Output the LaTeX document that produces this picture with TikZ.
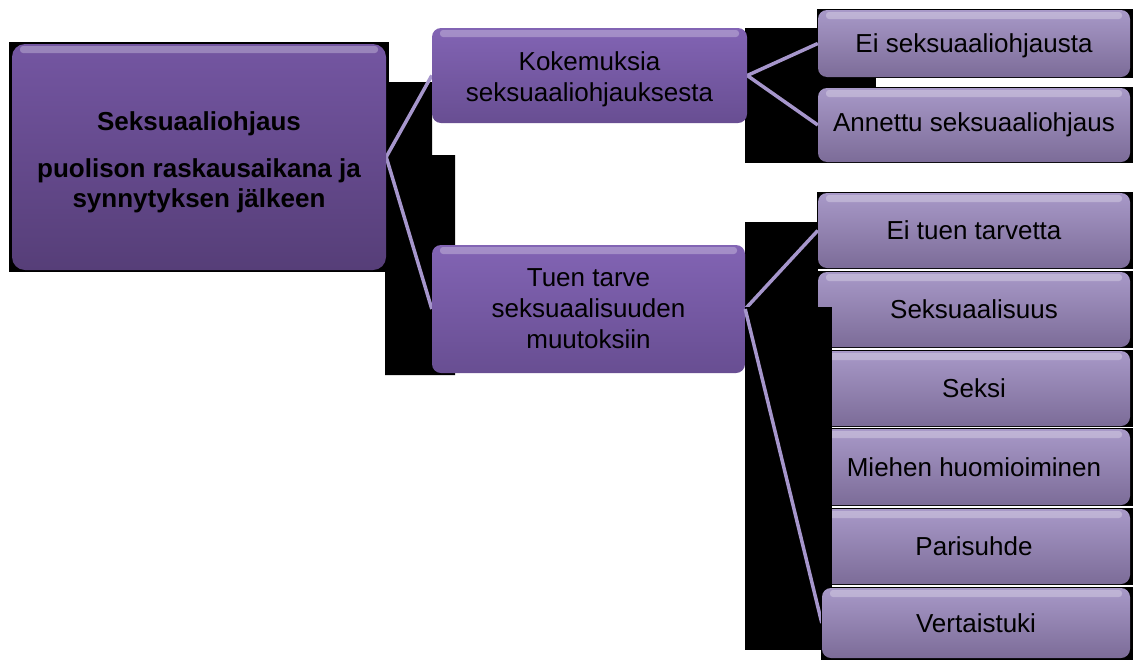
\documentclass[tikz,border=0pt]{standalone}
\usepackage{fontspec}
\setmainfont{Liberation Sans}
\pgfdeclarelayer{paper}
\pgfdeclarelayer{blk}
\pgfdeclarelayer{lns}
\pgfdeclarelayer{blktwo}
\pgfdeclarelayer{lnstwo}
\pgfdeclarelayer{toplayer}
\pgfsetlayers{paper,blk,lns,main,blktwo,lnstwo,toplayer}
\definecolor{mainT}{RGB}{116,86,162}
\definecolor{mainB}{RGB}{86,62,120}
\definecolor{midT}{RGB}{130,100,180}
\definecolor{midB}{RGB}{104,78,146}
\definecolor{leafT}{RGB}{168,153,200}
\definecolor{leafB}{RGB}{124,108,152}
\definecolor{lineC}{RGB}{166,150,204}
\tikzset{
  box/.style={rounded corners=9pt, inner sep=0pt, align=center, text=black,
    font=\fontsize{26}{31}\selectfont,
    path picture={\fill[white, opacity=0.28, rounded corners=3pt]
      ([xshift=8pt,yshift=-2pt]path picture bounding box.north west) rectangle
      ([xshift=-8pt,yshift=-9pt]path picture bounding box.north east);}},
  mainbox/.style={box, rounded corners=13pt, top color=mainT, bottom color=mainB,
    font=\bfseries\fontsize{26}{30}\selectfont},
  midbox/.style={box, top color=midT, bottom color=midB},
  leafbox/.style={box, top color=leafT, bottom color=leafB},
  link/.style={draw=lineC, line width=3.5pt},
  backing/.style={fill=black}
}
\begin{document}
\begin{tikzpicture}[x=1pt,y=-1pt]
\useasboundingbox (0,0) rectangle (1134,659);
\begin{pgfonlayer}{paper}
  \fill[white] (0,0) rectangle (1134,659);
\end{pgfonlayer}
\begin{scope}
\clip (0,0) rectangle (1134,659);
% black backgrounds
\begin{pgfonlayer}{blk}
  \fill[backing] (9,42) rectangle (389,272);
  \fill[backing] (385,82) -- (432,82) -- (432,155) -- (455,155) -- (455,375) -- (385,375) -- cycle;
  \fill[backing] (745,28) rectangle (876,163);
  \fill[backing] (745,222) rectangle (818,307);
  \foreach \ya/\yb in {9/78, 87/163, 192/269, 271/348, 350/427, 428/506, 508/585}
    \fill[backing] (817,\ya) rectangle (1133,\yb);
\end{pgfonlayer}
\begin{pgfonlayer}{blktwo}
  \fill[backing] (745,307) rectangle (832,650);
\end{pgfonlayer}
\begin{pgfonlayer}{toplayer}
  \fill[backing] (821,587) rectangle (1133,660);
\end{pgfonlayer}

% nodes
\node[mainbox, minimum width=374pt, minimum height=226pt] (root) at (199,157)
  {\rule{0pt}{29pt}Seksuaaliohjaus\\[17pt]puolison raskausaikana ja\\synnytyksen jälkeen};
\node[midbox, minimum width=315pt, minimum height=95pt] (koke) at (589.5,75.5)
  {\rule{0pt}{27pt}Kokemuksia\\seksuaaliohjauksesta};
\node[midbox, minimum width=313pt, minimum height=128pt] (tuen) at (588.5,309)
  {Tuen tarve\\seksuaalisuuden\\muutoksiin};
\node[leafbox, minimum width=312pt, minimum height=67pt] (ei) at (974,43.5) {\rule{0pt}{24pt}Ei seksuaaliohjausta};
\node[leafbox, minimum width=312pt, minimum height=74pt] (annettu) at (974,125) {Annettu seksuaaliohjaus};
\node[leafbox, minimum width=312pt, minimum height=75pt] (eituen) at (974,230.5) {Ei tuen tarvetta};
\node[leafbox, minimum width=312pt, minimum height=75pt] (seks) at (974,309.5) {Seksuaalisuus};
\node[leafbox, minimum width=312pt, minimum height=75pt] (seksi) at (974,388.5) {Seksi};
\node[leafbox, minimum width=312pt, minimum height=76pt] (miehen) at (974,467) {Miehen huomioiminen};
\node[leafbox, minimum width=312pt, minimum height=75pt] (pari) at (974,546.5) {Parisuhde};
\begin{pgfonlayer}{toplayer}
\node[leafbox, minimum width=308pt, minimum height=70pt] (vert) at (976,623) {Vertaistuki};
\end{pgfonlayer}

% connectors
\begin{pgfonlayer}{lns}
  \draw[link] (root.east) -- (koke.west);
  \draw[link] (root.east) -- (tuen.west);
  \draw[link] (koke.east) -- (ei.west);
  \draw[link] (koke.east) -- (annettu.west);
  \draw[link] (tuen.east) -- (eituen.west);
\end{pgfonlayer}
\begin{pgfonlayer}{lnstwo}
  \draw[link] (tuen.east) -- (vert.west);
\end{pgfonlayer}
\end{scope}
\end{tikzpicture}
\end{document}
